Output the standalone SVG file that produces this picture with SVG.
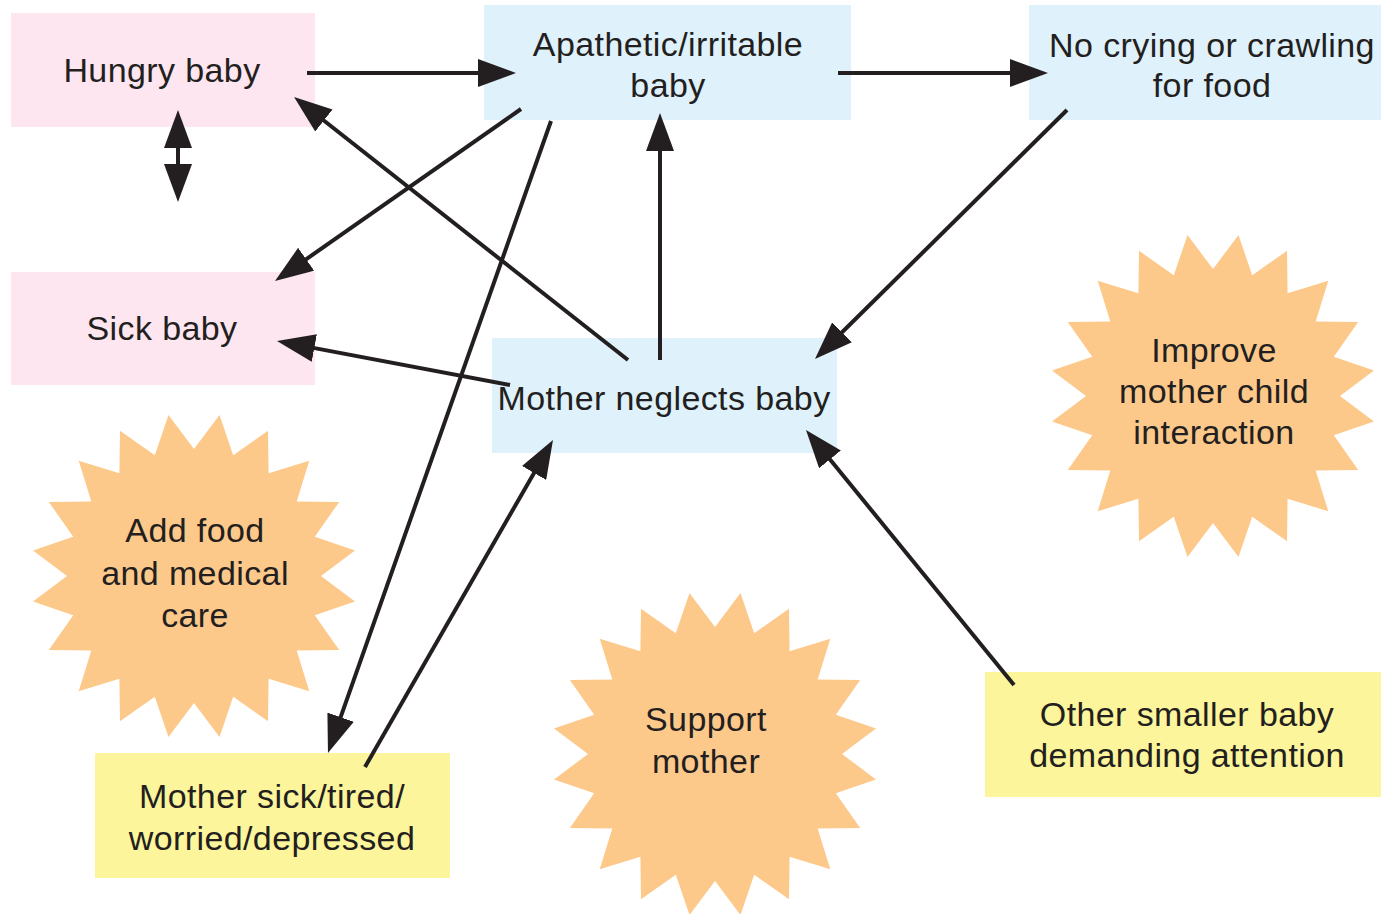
<svg xmlns="http://www.w3.org/2000/svg" xmlns:xlink="http://www.w3.org/1999/xlink" width="1381" height="914" viewBox="0 0 1381 914">
<style>
.pink{fill:#fde6f0}
.blue{fill:#dff1fa}
.yellow{fill:#fdf59b}
.burst{fill:#fdc98b}
text{font-family:"Liberation Sans",Arial,sans-serif;font-size:34px;letter-spacing:0.4px;fill:#231f20;text-anchor:middle}
.conn{stroke:#231f20;stroke-width:4;fill:none;marker-end:url(#ah)}
</style>
<defs>
<marker id="ah" markerUnits="userSpaceOnUse" markerWidth="38" markerHeight="28" viewBox="0 0 38 28" refX="28" refY="14" orient="auto-start-reverse">
<path d="M0,0 L38,14 L0,28 z" fill="#231f20"/>
</marker>
<polygon id="star" points="127,0 161,25.5 120.8,39.2 145.2,74 102.7,74.6 115.3,115.3 74.6,102.7 74,145.2 39.2,120.8 25.5,161 0,127 -25.5,161 -39.2,120.8 -74,145.2 -74.6,102.7 -115.3,115.3 -102.7,74.6 -145.2,74 -120.8,39.2 -161,25.5 -127,0 -161,-25.5 -120.8,-39.2 -145.2,-74 -102.7,-74.6 -115.3,-115.3 -74.6,-102.7 -74,-145.2 -39.2,-120.8 -25.5,-161 0,-127 25.5,-161 39.2,-120.8 74,-145.2 74.6,-102.7 115.3,-115.3 102.7,-74.6 145.2,-74 120.8,-39.2 161,-25.5"/>
</defs>
<rect width="1381" height="914" fill="#ffffff"/>

<g id="hungry-baby">
<rect class="pink" x="11" y="13" width="304" height="114"/>
<text x="162" y="82">Hungry baby</text>
</g>
<g id="sick-baby">
<rect class="pink" x="11" y="272" width="304" height="113"/>
<text x="162" y="340">Sick baby</text>
</g>
<g id="apathetic-baby">
<rect class="blue" x="484" y="5" width="367" height="115"/>
<text x="668" y="56">Apathetic/irritable</text>
<text x="668" y="97">baby</text>
</g>
<g id="no-crying">
<rect class="blue" x="1029" y="5" width="352" height="115"/>
<text x="1212" y="57">No crying or crawling</text>
<text x="1212" y="97">for food</text>
</g>
<g id="mother-neglects">
<rect class="blue" x="492" y="338" width="345" height="115"/>
<text x="664" y="410">Mother neglects baby</text>
</g>
<g id="mother-sick">
<rect class="yellow" x="95" y="753" width="355" height="125"/>
<text x="272" y="808">Mother sick/tired/</text>
<text x="272" y="850">worried/depressed</text>
</g>
<g id="other-baby">
<rect class="yellow" x="985" y="672" width="396" height="125"/>
<text x="1187" y="726">Other smaller baby</text>
<text x="1187" y="767">demanding attention</text>
</g>
<g id="add-food">
<use xlink:href="#star" class="burst" transform="translate(194,576)"/>
<text x="195" y="542">Add food</text>
<text x="195" y="585">and medical</text>
<text x="195" y="627">care</text>
</g>
<g id="support-mother">
<use xlink:href="#star" class="burst" transform="translate(715,754)"/>
<text x="706" y="731">Support</text>
<text x="706" y="773">mother</text>
</g>
<g id="improve-interaction">
<use xlink:href="#star" class="burst" transform="translate(1213,396)"/>
<text x="1214" y="362">Improve</text>
<text x="1214" y="403">mother child</text>
<text x="1214" y="444">interaction</text>
</g>

<g id="connectors">
<line class="conn" x1="307" y1="73" x2="506" y2="73"/>
<line class="conn" x1="838" y1="73" x2="1038" y2="73"/>
<line class="conn" x1="178" y1="120" x2="178" y2="192" marker-start="url(#ah)"/>
<line class="conn" x1="521" y1="109" x2="283.2" y2="275.3"/>
<line class="conn" x1="628" y1="360" x2="301.9" y2="103.2"/>
<line class="conn" x1="551" y1="121" x2="331.3" y2="743.6"/>
<line class="conn" x1="365" y1="767" x2="548" y2="448.7"/>
<line class="conn" x1="660" y1="360" x2="660" y2="123"/>
<line class="conn" x1="1067" y1="110" x2="822.1" y2="352"/>
<line class="conn" x1="510" y1="385" x2="286.8" y2="342.9"/>
<line class="conn" x1="1014" y1="685" x2="812.3" y2="437.7"/>
</g>
</svg>
